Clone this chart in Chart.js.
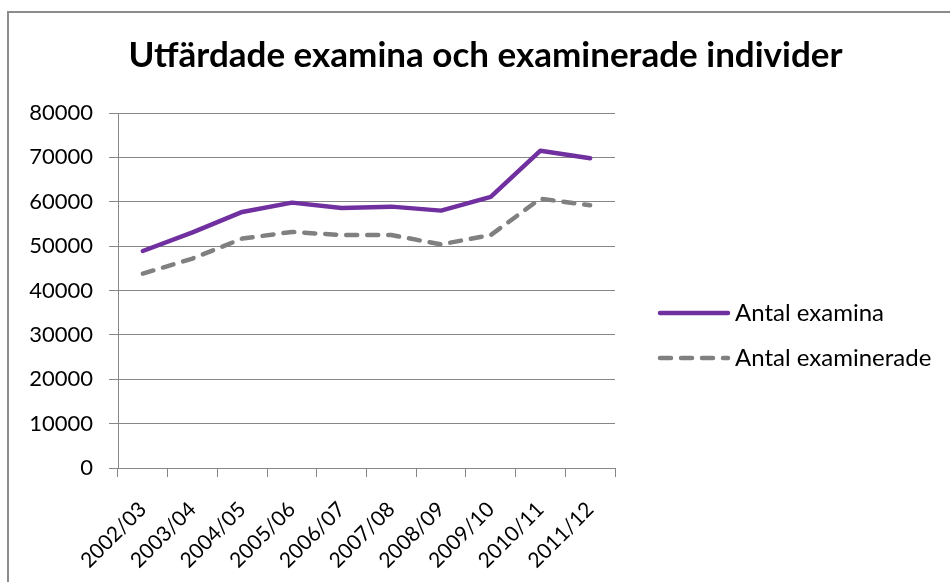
<!DOCTYPE html>
<html>
<head>
<meta charset="utf-8">
<script src="https://cdn.jsdelivr.net/npm/chart.js@4/dist/chart.umd.min.js"></script>
<style>
  html, body { margin: 0; padding: 0; background: #fff; overflow: hidden; }
  #frame { position: absolute; left: 7px; top: 11px; width: 1000px; height: 1000px; border: 2px solid #8c8c8c; }
  #wrap { position: absolute; left: 0; top: 0; width: 950px; height: 582px; }
</style>
</head>
<body>
<div id="frame"></div>
<div id="wrap"><canvas id="chart_canvas" width="950" height="582"></canvas></div>
<script>
var years = ['2002/03','2003/04','2004/05','2005/06','2006/07','2007/08','2008/09','2009/10','2010/11','2011/12'];
var antal_examina = [48900, 53100, 57700, 59800, 58600, 58900, 58000, 61100, 71500, 69800];
var antal_examinerade = [43800, 47200, 51700, 53200, 52500, 52500, 50400, 52500, 60700, 59200];
var y_min = 0;
var y_max = 80000;
var y_step = 10000;

var grid_color = '#868686';

// legend drawn by hand so the dashed sample keeps its dash pattern
var side_legend = {
  id: 'side_legend',
  afterDraw: function(chart)
  {
    var ctx = chart.ctx;
    var area = chart.chartArea;
    var x0 = area.right + 43;
    var line_len = 70;
    var y0 = area.top + 200;
    var gap = 45;

    chart.data.datasets.forEach(function(ds, i)
    {
      var y = y0 + i * gap;
      ctx.save();
      ctx.strokeStyle = ds.borderColor;
      ctx.lineWidth = ds.borderWidth;
      ctx.lineCap = 'round';
      ctx.setLineDash(ds.borderDash || []);
      ctx.beginPath();
      ctx.moveTo(x0 + 2, y);
      ctx.lineTo(x0 + line_len, y);
      ctx.stroke();
      ctx.restore();

      ctx.save();
      ctx.fillStyle = '#000';
      ctx.font = '24px Lato';
      ctx.textBaseline = 'middle';
      ctx.textAlign = 'left';
      ctx.fillText(ds.label, x0 + line_len + 7, y);
      ctx.restore();
    });
  }
};

new Chart(document.getElementById('chart_canvas').getContext('2d'), {
  type: 'line',
  data: {
    labels: years,
    datasets: [
      {
        label: 'Antal examina',
        data: antal_examina,
        borderColor: '#7030a0',
        backgroundColor: '#7030a0',
        borderWidth: 4.5,
        borderCapStyle: 'round',
        borderJoinStyle: 'round',
        pointRadius: 0,
        tension: 0,
        fill: false
      },
      {
        label: 'Antal examinerade',
        data: antal_examinerade,
        borderColor: '#808080',
        backgroundColor: '#808080',
        borderWidth: 4.5,
        borderDash: [11, 10],
        borderCapStyle: 'round',
        borderJoinStyle: 'round',
        pointRadius: 0,
        tension: 0,
        fill: false
      }
    ]
  },
  plugins: [side_legend],
  options: {
    responsive: false,
    animation: false,
    events: [],
    layout: { padding: { left: 21, right: 0, top: 0, bottom: 0 } },
    plugins: {
      title: {
        display: true,
        text: 'Utfärdade examina och examinerade individer',
        color: '#000',
        font: { family: 'Lato', size: 35, weight: 'bold' },
        padding: { top: 35, bottom: 36 }
      },
      legend: { display: false },
      tooltip: { enabled: false }
    },
    scales: {
      x: {
        type: 'category',
        offset: true,
        afterFit: function(scale) { scale.height = 114; },
        grid: { offset: true, drawOnChartArea: false, tickLength: 9, color: grid_color },
        border: { color: grid_color, width: 1 },
        ticks: {
          color: '#000',
          font: { family: 'Lato', size: 21 },
          maxRotation: 45,
          minRotation: 45,
          padding: 20
        }
      },
      y: {
        min: y_min,
        max: y_max,
        afterFit: function(scale) { scale.width = 97; },
        grid: { color: grid_color, tickLength: 9 },
        border: { color: grid_color, width: 1 },
        ticks: {
          stepSize: y_step,
          color: '#000',
          padding: 16,
          font: { family: 'Lato', size: 22 },
          callback: function(value) { return String(value); }
        }
      },
      y_spacer: {
        type: 'linear',
        position: 'right',
        display: true,
        afterFit: function(scale) { scale.width = 335; },
        grid: { display: false },
        border: { display: false },
        ticks: { display: false }
      }
    }
  }
});
</script>
</body>
</html>
